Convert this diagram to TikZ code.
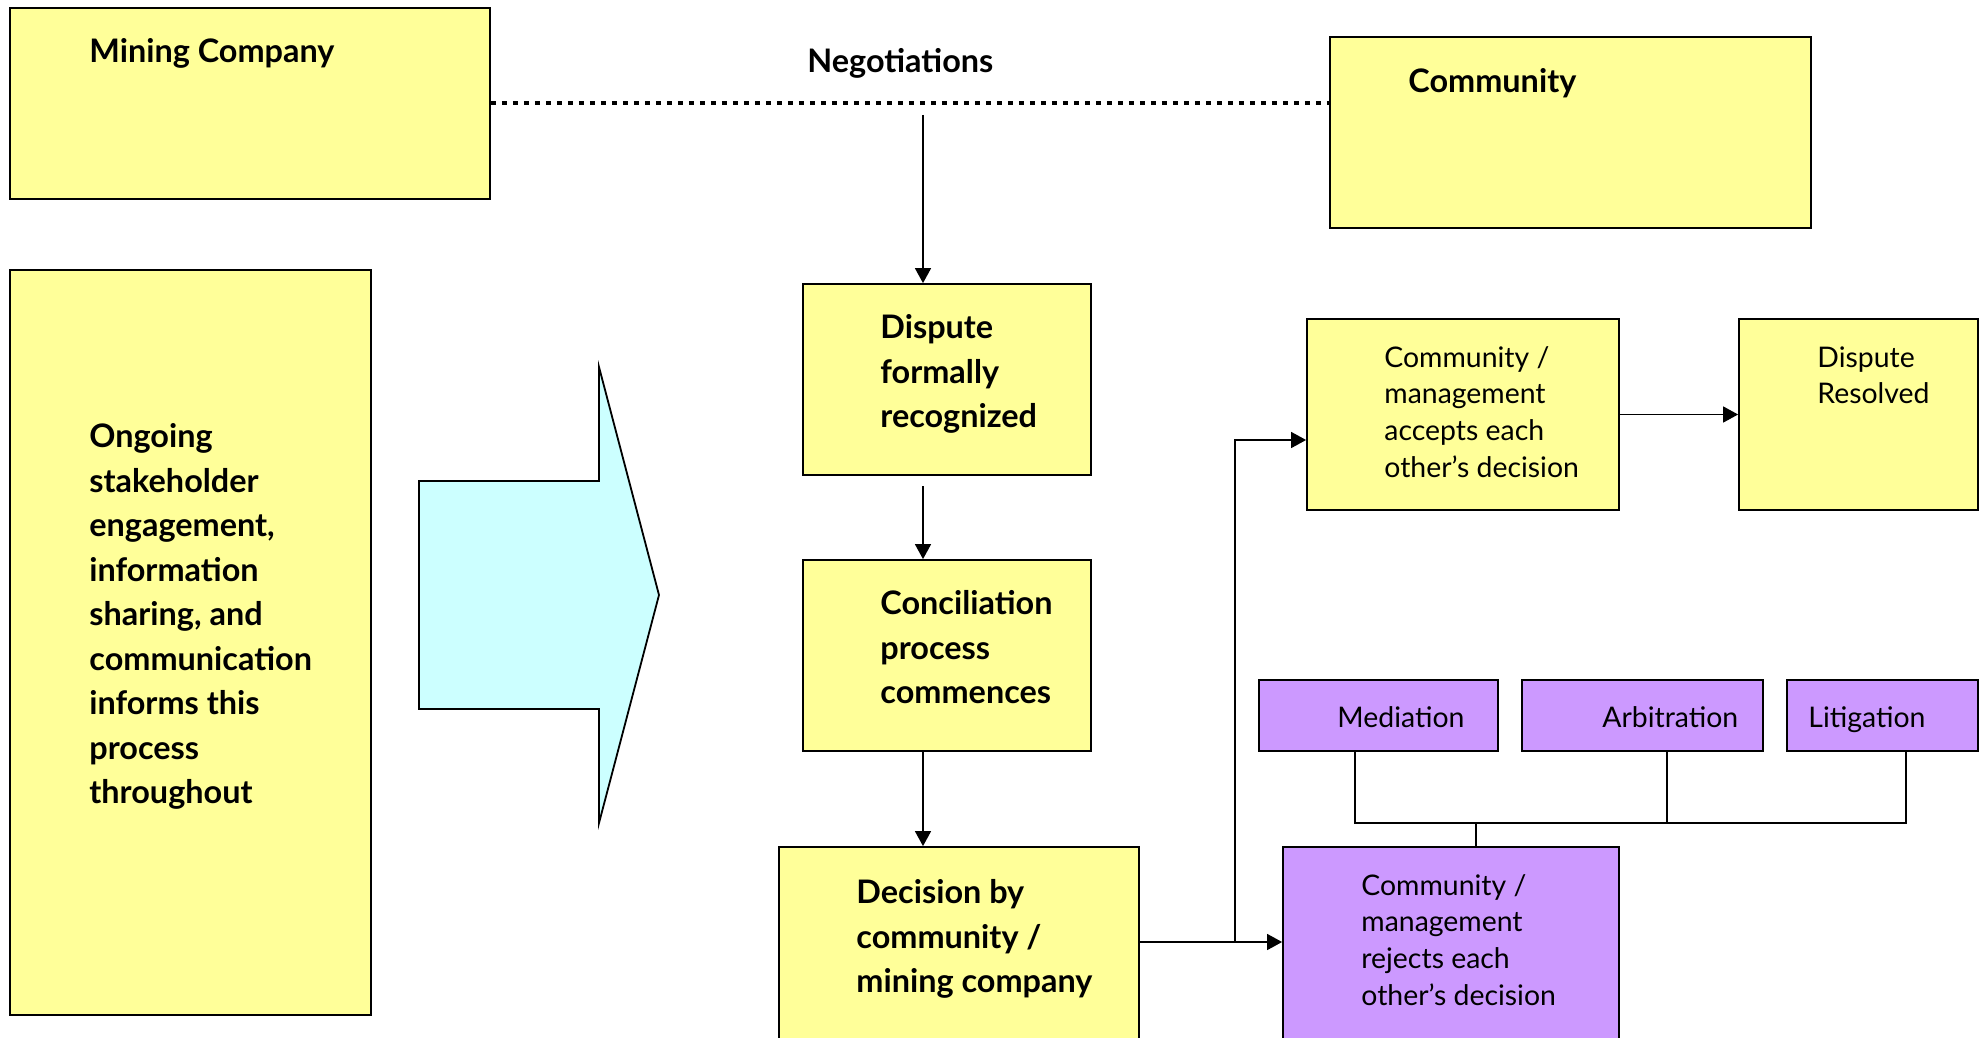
\documentclass[tikz,border=0pt]{standalone}
\usepackage{fontspec}
\setmainfont{Lato}
\usetikzlibrary{arrows.meta,fit}
\definecolor{boxyellow}{HTML}{FFFF99}
\definecolor{boxpurple}{HTML}{CC99FF}
\definecolor{arrowcyan}{HTML}{CCFFFF}
\begin{document}
\begin{tikzpicture}[x=0.5pt,y=-0.5pt,
  ybox/.style={draw=black, fill=boxyellow, line width=0.9pt, inner sep=0pt},
  pbox/.style={draw=black, fill=boxpurple, line width=0.9pt, inner sep=0pt},
  btext/.style={anchor=north west, inner sep=0pt, align=left, font=\fontsize{16.2}{22.25}\selectfont\bfseries},
  rtext/.style={anchor=north west, inner sep=0pt, align=left, font=\fontsize{14.2}{18.35}\selectfont},
  conn/.style={line width=0.75pt},
  arr/.style={conn, -{Triangle[length=7.5pt,width=8pt]}},
]
\useasboundingbox (0,0) rectangle (1986,1038);
\clip (0,0) rectangle (1986,1038);

% boxes
\node[ybox, fit={(10,8) (490,199)}] (mc) {};
\node[ybox, fit={(1330,37) (1811,228)}] (com) {};
\node[ybox, fit={(10,270) (371,1015)}] (ong) {};
\node[ybox, fit={(803,284) (1091,475)}] (disp) {};
\node[ybox, fit={(803,560) (1091,751)}] (conc) {};
\node[ybox, fit={(779,847) (1139,1080)}] (dec) {};
\node[ybox, fit={(1307,319) (1619,510)}] (acc) {};
\node[ybox, fit={(1739,319) (1978,510)}] (res) {};
\node[pbox, fit={(1259,680) (1498,751)}] (med) {};
\node[pbox, fit={(1522,680) (1763,751)}] (arb) {};
\node[pbox, fit={(1787,680) (1978,751)}] (lit) {};
\node[pbox, fit={(1283,847) (1619,1080)}] (rej) {};

% big arrow
\draw[fill=arrowcyan, line width=0.9pt, line join=miter]
  (419,481) -- (599,481) -- (599,367) -- (659,595) -- (599,823) -- (599,709) -- (419,709) -- cycle;

% texts
\node[btext] (mcT) at (89,31) {\strut Mining Company};
\node[btext] (negT) at (807,41) {\strut Negotiations};
\node[btext] (comT) at (1408,61) {\strut Community};
\node[btext] (ongT) at (89,416) {\strut Ongoing\\stakeholder\\engagement,\\information\\sharing, and\\communication\\informs this\\process\\throughout};
\node[btext] (dispT) at (880,307) {\strut Dispute\\formally\\recognized};
\node[btext] (concT) at (880,583) {\strut Conciliation\\process\\commences};
\node[btext] (decT) at (856,872) {\strut Decision by\\community /\\mining company};
\node[rtext] (accT) at (1384,341) {\strut Community /\\management\\accepts each\\other’s decision};
\node[rtext] (resT) at (1817,341) {\strut Dispute\\Resolved};
\node[rtext] (medT) at (1337,701) {\strut Mediation};
\node[rtext] (arbT) at (1602,701) {\strut Arbitration};
\node[rtext] (litT) at (1808,701) {\strut Litigation};
\node[rtext] (rejT) at (1361,869) {\strut Community /\\management\\rejects each\\other’s decision};

% negotiations dotted line
\draw[line width=2pt, dash pattern=on 2.5pt off 3pt] (mc.east) -- (mc.east -| com.west);

% vertical flow
\coordinate (negtop) at (923,115);
\coordinate (a2) at (923,486);
\draw[arr] (negtop) -- (negtop |- disp.north);
\draw[arr] (a2) -- (a2 |- conc.north);
\draw[arr] (a2 |- conc.south) -- (a2 |- dec.north);

% decision branches
\coordinate (j) at (1235,942);
\coordinate (k) at (1235,440);
\draw[arr] (dec.east |- j) -- (rej.west |- j);
\draw[arr] (j) -- (k) -- (k -| acc.west);
\draw[arr] (acc.east) -- (res.west);

% bus from mediation / arbitration / litigation
\coordinate (bm) at (1355,823);
\coordinate (ba) at (1667,823);
\coordinate (bl) at (1906,823);
\coordinate (br) at (1476,823);
\draw[conn] (bm |- med.south) -- (bm) -- (bl) -- (bl |- lit.south);
\draw[conn] (ba |- arb.south) -- (ba);
\draw[conn] (br) -- (br |- rej.north);
\end{tikzpicture}
\end{document}
